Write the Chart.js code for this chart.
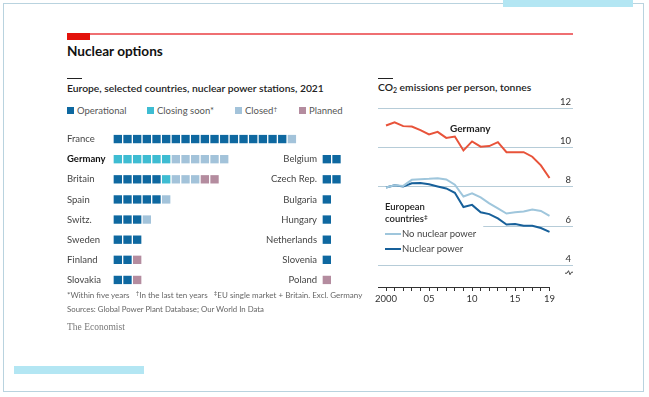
<!DOCTYPE html>
<html><head><meta charset="utf-8">
<script src="https://cdn.jsdelivr.net/npm/chart.js@4"></script>
<style>
html,body{margin:0;padding:0;background:#fff;}
body{width:649px;height:397px;position:relative;overflow:hidden;font-family:Lato,"Open Sans",sans-serif;}
.a{position:absolute;white-space:nowrap;}
.sp{position:relative;top:-3px;font-size:6px;line-height:0;}
.sb{position:relative;top:2px;font-size:7px;line-height:0;}
canvas{position:absolute;}
</style></head><body>

<div class="a" style="left:3px;top:3px;width:639px;height:387px;border:1px solid #b9d3df;"></div>
<div class="a" style="left:503px;top:0;width:130px;height:7px;background:#b3e6f3;"></div>
<div class="a" style="left:14px;top:366px;width:130px;height:8px;background:#b3e6f3;"></div>

<div class="a" style="left:67px;top:33px;width:506px;height:2px;background:#ef6f72;"></div>
<div class="a" style="left:67px;top:33px;width:23px;height:7px;background:#e3120b;"></div>
<div class="a" style="left:67px;top:43.3px;font-size:13.6px;line-height:16px;font-weight:700;color:#111;">Nuclear options</div>

<div class="a" style="left:67px;top:78px;width:15px;height:1px;background:#222;"></div>
<div class="a" style="left:67px;top:82.2px;font-size:10.3px;line-height:12px;font-weight:600;color:#222;">Europe, selected countries, nuclear power stations, 2021</div>

<div id="wlegend"></div>

<div class="a" style="left:378px;top:78px;width:15px;height:1px;background:#222;"></div>
<div class="a" style="left:378px;top:81.2px;font-size:10.3px;line-height:12px;font-weight:600;color:#222;">CO<span class="sb">2</span> emissions per person, tonnes</div>

<canvas id="wl" width="235" height="185" style="left:67px;top:117px;width:235px;height:185px;"></canvas>
<canvas id="wr" width="104" height="185" style="left:240px;top:117px;width:104px;height:185px;"></canvas>
<canvas id="ln" width="214" height="212" style="left:370px;top:96px;width:214px;height:212px;"></canvas>

<div class="a" style="left:450px;top:121.5px;font-size:10px;line-height:12px;font-weight:700;color:#222;">Germany</div>
<div class="a" style="left:385px;top:201px;font-size:9.5px;line-height:12px;font-weight:600;color:#222;">European</div>
<div class="a" style="left:385px;top:212.5px;font-size:9.5px;line-height:12px;font-weight:600;color:#222;">countries<span class="sp" style="font-size:6.5px;">‡</span></div>
<div class="a" style="left:385px;top:233px;width:16px;height:2px;background:#9fc6dc;"></div>
<div class="a" style="left:402px;top:228px;font-size:9.5px;line-height:12px;color:#444;">No nuclear power</div>
<div class="a" style="left:385px;top:248px;width:16px;height:2px;background:#17609a;"></div>
<div class="a" style="left:402px;top:243px;font-size:9.5px;line-height:12px;color:#444;">Nuclear power</div>

<div class="a" style="left:67px;top:290px;font-size:8px;line-height:10px;color:#666;">*Within five years&nbsp;&nbsp;&nbsp;<span class="sp">†</span>In the last ten years&nbsp;&nbsp;&nbsp;<span class="sp">‡</span>EU single market + Britain. Excl. Germany</div>
<div class="a" style="left:67px;top:303.5px;font-size:7.8px;line-height:10px;color:#666;">Sources: Global Power Plant Database; Our World In Data</div>
<div class="a" style="left:67px;top:321px;font-size:9.5px;line-height:12px;color:#777;font-family:'Liberation Serif','DejaVu Serif',serif;">The Economist</div>

<script>
// ---------- DATA ----------
const statusNames = ['Operational', 'Closing soon*', 'Closed†', 'Planned'];
const statusColors = ['#0e68a0', '#3ebcd2', '#a3c3da', '#b48c9f'];

const leftCountries   = ['France','Germany','Britain','Spain','Switz.','Sweden','Finland','Slovakia'];
const leftOperational = [18, 0, 5, 5, 3, 3, 2, 2];
const leftClosingSoon = [0, 6, 1, 0, 0, 0, 0, 0];
const leftClosed      = [1, 6, 3, 1, 1, 0, 0, 0];
const leftPlanned     = [0, 0, 2, 0, 0, 0, 1, 1];

const rightCountries   = ['Belgium','Czech Rep.','Bulgaria','Hungary','Netherlands','Slovenia','Poland'];
const rightOperational = [2, 2, 1, 1, 1, 1, 0];
const rightClosingSoon = [0, 0, 0, 0, 0, 0, 0];
const rightClosed      = [0, 0, 0, 0, 0, 0, 0];
const rightPlanned     = [0, 0, 0, 0, 0, 0, 1];

const years = [2000,2001,2002,2003,2004,2005,2006,2007,2008,2009,2010,2011,2012,2013,2014,2015,2016,2017,2018,2019];
const germany   = [11.13,11.30,11.10,11.08,10.90,10.68,10.81,10.50,10.57,9.86,10.32,10.05,10.08,10.28,9.77,9.77,9.77,9.54,9.10,8.45];
const noNuclear = [7.97,8.08,8.05,8.36,8.39,8.41,8.44,8.38,8.11,7.51,7.67,7.46,7.16,6.90,6.64,6.70,6.74,6.84,6.77,6.52];
const nuclear   = [7.97,8.08,8.02,8.18,8.20,8.13,8.02,7.92,7.70,6.97,7.08,6.70,6.61,6.39,6.08,6.11,6.02,6.02,5.90,5.70];

const yTickValues = [4, 6, 8, 10, 12];
const xLabelYears = [2000, 2005, 2010, 2015, 2019];
const xLabelTexts = ['2000', '05', '10', '15', '19'];

// ---------- STYLE ----------
Chart.defaults.font.family = 'Lato, "Open Sans", sans-serif';
const PITCH = 9.67;

(function(){
  const lg = document.getElementById('wlegend');
  const xs = [67, 147, 235, 299];
  statusNames.forEach((n, i) => {
    const sq = document.createElement('div');
    sq.className = 'a';
    sq.style.cssText = `left:${xs[i]}px;top:107px;width:7px;height:7px;background:${statusColors[i]};`;
    lg.appendChild(sq);
    const t = document.createElement('div');
    t.className = 'a';
    t.style.cssText = `left:${xs[i]+10}px;top:105.3px;font-size:9.5px;line-height:12px;color:#555;`;
    const base = n.replace(/[*†]$/, '');
    const mark = n.slice(base.length);
    t.innerHTML = base + (mark === '†' ? '<span class="sp" style="font-size:6.5px;">†</span>' : mark);
    lg.appendChild(t);
  });
})();

function waffleDatasets(countries, arrays) {
  return arrays.map((arr, si) => {
    const pts = [];
    countries.forEach((c, ci) => {
      let off = 0;
      for (let k = 0; k < si; k++) off += arrays[k][ci];
      for (let j = 0; j < arr[ci]; j++) pts.push({x: off + j + 0.5, y: c});
    });
    return {label: statusNames[si], data: pts, backgroundColor: statusColors[si], borderWidth: 0,
            pointStyle: 'rect', pointRadius: 5.9, pointHoverRadius: 5.9, pointBorderWidth: 0, clip: false};
  });
}

function waffle(id, labels, countries, arrays, axisWidth, xmax, align, padding) {
  new Chart(document.getElementById(id), {
    type: 'scatter',
    data: {datasets: waffleDatasets(countries, arrays)},
    options: {
      responsive: false, animation: false, events: [],
      layout: {autoPadding: false, padding: {top: 12, bottom: 12, left: 0, right: 0}},
      plugins: {legend: {display: false}, tooltip: {enabled: false}},
      scales: {
        x: {type: 'linear', min: 0, max: xmax, display: false},
        y: {type: 'category', labels: labels, offset: true, position: 'left',
            grid: {display: false, drawTicks: false, tickLength: 0}, border: {display: false},
            ticks: {crossAlign: align, padding: padding, color: ctx => ctx.tick && ctx.tick.label === 'Germany' ? '#111' : '#444',
                    font: ctx => ({size: 9.5, weight: (ctx.tick && ctx.tick.label === 'Germany') ? 'bold' : 'normal'})},
            afterFit: s => { s.width = axisWidth; }}
      }
    }
  });
}

waffle('wl', leftCountries, leftCountries, [leftOperational, leftClosingSoon, leftClosed, leftPlanned], 46, 189 / PITCH, 'far', 0);
waffle('wr', [' '].concat(rightCountries), rightCountries, [rightOperational, rightClosingSoon, rightClosed, rightPlanned], 82, 22 / PITCH, 'near', 5);

const decor = {
  id: 'decor',
  beforeDatasetsDraw(chart) {
    const {ctx, chartArea, scales: {x, y}} = chart;
    ctx.save();
    ctx.fillStyle = '#fff';
    const py = y.getPixelForValue(6);
    ctx.fillRect(chartArea.left - 1, py - 2, x.getPixelForValue(2011.3) - chartArea.left + 1, 4);
    ctx.restore();
  },
  afterDraw(chart) {
    const {ctx, chartArea, scales: {x, y}} = chart;
    ctx.save();
    ctx.strokeStyle = '#333';
    ctx.lineWidth = 1;
    const by = Math.round(chartArea.bottom) + 0.5;
    ctx.beginPath();
    ctx.moveTo(chartArea.left, by);
    ctx.lineTo(x.getPixelForValue(years[years.length - 1]) + 0.5, by);
    ctx.stroke();
    const bx = chartArea.right - 8, byy = y.getPixelForValue(3.62);
    ctx.lineWidth = 0.9;
    ctx.beginPath();
    ctx.moveTo(bx, byy + 0.5);
    ctx.lineTo(bx + 2, byy + 0.5);
    ctx.lineTo(bx + 3.5, byy - 2);
    ctx.lineTo(bx + 5, byy + 2);
    ctx.lineTo(bx + 6.5, byy - 0.5);
    ctx.lineTo(bx + 8, byy - 0.5);
    ctx.stroke();
    ctx.restore();
  }
};

const toPts = arr => years.map((yr, i) => ({x: yr, y: arr[i]}));
new Chart(document.getElementById('ln'), {
  type: 'line',
  data: {datasets: [
    {label: 'Germany', data: toPts(germany), borderColor: '#e8533a', borderWidth: 2, pointRadius: 0, tension: 0, fill: false},
    {label: 'No nuclear power', data: toPts(noNuclear), borderColor: '#9fc6dc', borderWidth: 2, pointRadius: 0, tension: 0, fill: false},
    {label: 'Nuclear power', data: toPts(nuclear), borderColor: '#17609a', borderWidth: 2, pointRadius: 0, tension: 0, fill: false}
  ]},
  options: {
    responsive: false, animation: false, events: [],
    layout: {autoPadding: false, padding: {left: 8, top: 12.5, right: 0, bottom: 0}},
    plugins: {legend: {display: false}, tooltip: {enabled: false}},
    scales: {
      x: {type: 'linear', min: 1999.07, max: 2021.73,
          afterBuildTicks: s => { s.ticks = years.map(v => ({value: v})); },
          grid: {drawOnChartArea: false, drawTicks: true, tickLength: 4, color: '#333', lineWidth: 1},
          border: {display: false},
          ticks: {autoSkip: false, maxRotation: 0, padding: 2, color: '#333', font: {size: 9.5},
                  callback: v => { const i = xLabelYears.indexOf(v); return i >= 0 ? xLabelTexts[i] : ''; }},
          afterFit: s => { s.height = 21; }},
      y: {position: 'right', min: 2.89, max: 12,
          afterBuildTicks: s => { s.ticks = yTickValues.map(v => ({value: v})); },
          grid: {color: '#b6ccd8', drawTicks: false, lineWidth: 1},
          border: {display: false},
          ticks: {mirror: true, padding: -2, labelOffset: -6.5, color: '#333', font: {size: 9.5}},
          afterFit: s => { s.width = 11; }}
    }
  },
  plugins: [decor]
});
</script>
</body></html>
